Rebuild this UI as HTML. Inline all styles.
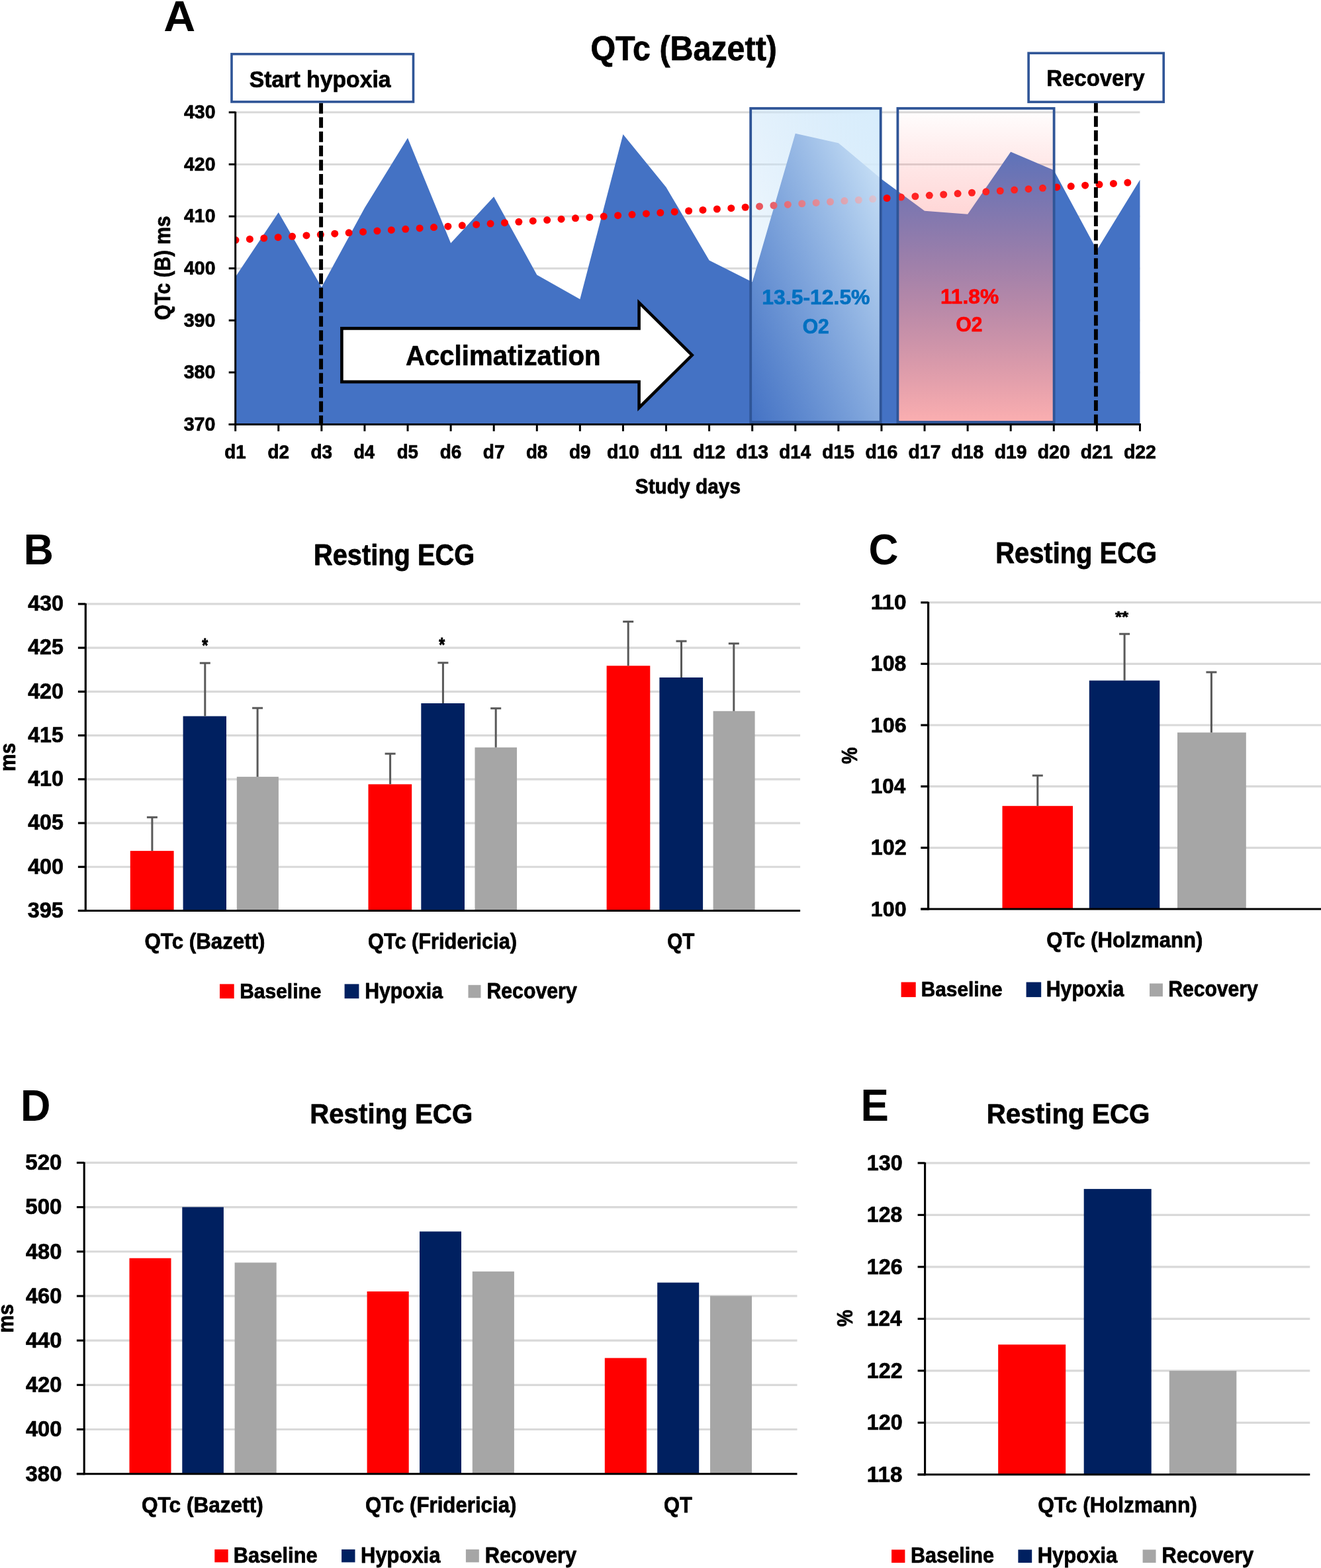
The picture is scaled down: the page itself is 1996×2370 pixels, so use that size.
<!DOCTYPE html>
<html lang="en"><head><meta charset="utf-8"><title>QTc figure</title>
<style>
html,body{margin:0;padding:0;background:#fff;}
body{width:1996px;height:2370px;overflow:hidden;}
svg{display:block;}
svg text{font-family:"Liberation Sans", sans-serif;font-weight:bold;}
</style></head><body>
<svg width="1996" height="2370" viewBox="0 0 1996 2370">
<defs>
<linearGradient id="gb" x1="0" y1="1" x2="1" y2="0">
<stop offset="0" stop-color="#BADBF6" stop-opacity="0"/><stop offset="1" stop-color="#D8EDFC" stop-opacity="1"/>
</linearGradient>
<linearGradient id="gr" x1="0" y1="0" x2="0" y2="1">
<stop offset="0" stop-color="#FF6E6E" stop-opacity="0"/><stop offset="1" stop-color="#FFB0B0" stop-opacity="0.98"/>
</linearGradient>
</defs>
<rect width="1996" height="2370" fill="#fff"/>
<line x1="355.70" y1="169.80" x2="1722.44" y2="169.80" stroke="#D9D9D9" stroke-width="3.0" />
<line x1="355.70" y1="248.42" x2="1722.44" y2="248.42" stroke="#D9D9D9" stroke-width="3.0" />
<line x1="355.70" y1="327.03" x2="1722.44" y2="327.03" stroke="#D9D9D9" stroke-width="3.0" />
<line x1="355.70" y1="405.65" x2="1722.44" y2="405.65" stroke="#D9D9D9" stroke-width="3.0" />
<line x1="355.70" y1="484.27" x2="1722.44" y2="484.27" stroke="#D9D9D9" stroke-width="3.0" />
<line x1="355.70" y1="562.88" x2="1722.44" y2="562.88" stroke="#D9D9D9" stroke-width="3.0" />
<polygon points="355.70,641.50 355.70,418.50 420.78,321.00 485.87,434.00 550.95,314.20 616.03,208.60 681.12,367.50 746.20,297.20 811.28,415.40 876.36,452.30 941.45,203.00 1006.53,282.90 1071.61,393.50 1136.70,426.20 1201.78,201.80 1266.86,216.20 1331.94,270.70 1397.03,318.80 1462.11,323.80 1527.19,229.50 1592.28,257.20 1657.36,378.00 1722.44,271.70 1722.44,641.50" fill="#4472C4"/>
<clipPath id="pa"><rect x="355.7" y="149.8" width="1376.743" height="491.7"/></clipPath><g clip-path="url(#pa)">
<circle cx="356.00" cy="362.80" r="5.5" fill="#FF0000"/>
<circle cx="377.39" cy="361.42" r="5.5" fill="#FF0000"/>
<circle cx="398.79" cy="360.05" r="5.5" fill="#FF0000"/>
<circle cx="420.18" cy="358.67" r="5.5" fill="#FF0000"/>
<circle cx="441.57" cy="357.30" r="5.5" fill="#FF0000"/>
<circle cx="462.97" cy="355.92" r="5.5" fill="#FF0000"/>
<circle cx="484.36" cy="354.54" r="5.5" fill="#FF0000"/>
<circle cx="505.76" cy="353.17" r="5.5" fill="#FF0000"/>
<circle cx="527.15" cy="351.79" r="5.5" fill="#FF0000"/>
<circle cx="548.54" cy="350.41" r="5.5" fill="#FF0000"/>
<circle cx="569.94" cy="349.04" r="5.5" fill="#FF0000"/>
<circle cx="591.33" cy="347.66" r="5.5" fill="#FF0000"/>
<circle cx="612.72" cy="346.29" r="5.5" fill="#FF0000"/>
<circle cx="634.12" cy="344.91" r="5.5" fill="#FF0000"/>
<circle cx="655.51" cy="343.53" r="5.5" fill="#FF0000"/>
<circle cx="676.90" cy="342.16" r="5.5" fill="#FF0000"/>
<circle cx="698.30" cy="340.78" r="5.5" fill="#FF0000"/>
<circle cx="719.69" cy="339.40" r="5.5" fill="#FF0000"/>
<circle cx="741.09" cy="338.03" r="5.5" fill="#FF0000"/>
<circle cx="762.48" cy="336.65" r="5.5" fill="#FF0000"/>
<circle cx="783.87" cy="335.28" r="5.5" fill="#FF0000"/>
<circle cx="805.27" cy="333.90" r="5.5" fill="#FF0000"/>
<circle cx="826.66" cy="332.52" r="5.5" fill="#FF0000"/>
<circle cx="848.05" cy="331.15" r="5.5" fill="#FF0000"/>
<circle cx="869.45" cy="329.77" r="5.5" fill="#FF0000"/>
<circle cx="890.84" cy="328.40" r="5.5" fill="#FF0000"/>
<circle cx="912.23" cy="327.02" r="5.5" fill="#FF0000"/>
<circle cx="933.63" cy="325.64" r="5.5" fill="#FF0000"/>
<circle cx="955.02" cy="324.27" r="5.5" fill="#FF0000"/>
<circle cx="976.42" cy="322.89" r="5.5" fill="#FF0000"/>
<circle cx="997.81" cy="321.51" r="5.5" fill="#FF0000"/>
<circle cx="1019.20" cy="320.14" r="5.5" fill="#FF0000"/>
<circle cx="1040.60" cy="318.76" r="5.5" fill="#FF0000"/>
<circle cx="1061.99" cy="317.39" r="5.5" fill="#FF0000"/>
<circle cx="1083.38" cy="316.01" r="5.5" fill="#FF0000"/>
<circle cx="1104.78" cy="314.63" r="5.5" fill="#FF0000"/>
<circle cx="1126.17" cy="313.26" r="5.5" fill="#FF0000"/>
<circle cx="1147.57" cy="311.88" r="5.5" fill="#FF0000"/>
<circle cx="1168.96" cy="310.50" r="5.5" fill="#FF0000"/>
<circle cx="1190.35" cy="309.13" r="5.5" fill="#FF0000"/>
<circle cx="1211.75" cy="307.75" r="5.5" fill="#FF0000"/>
<circle cx="1233.14" cy="306.38" r="5.5" fill="#FF0000"/>
<circle cx="1254.53" cy="305.00" r="5.5" fill="#FF0000"/>
<circle cx="1275.93" cy="303.62" r="5.5" fill="#FF0000"/>
<circle cx="1297.32" cy="302.25" r="5.5" fill="#FF0000"/>
<circle cx="1318.71" cy="300.87" r="5.5" fill="#FF0000"/>
<circle cx="1340.11" cy="299.50" r="5.5" fill="#FF0000"/>
<circle cx="1361.50" cy="298.12" r="5.5" fill="#FF0000"/>
<circle cx="1382.90" cy="296.74" r="5.5" fill="#FF0000"/>
<circle cx="1404.29" cy="295.37" r="5.5" fill="#FF0000"/>
<circle cx="1425.68" cy="293.99" r="5.5" fill="#FF0000"/>
<circle cx="1447.08" cy="292.61" r="5.5" fill="#FF0000"/>
<circle cx="1468.47" cy="291.24" r="5.5" fill="#FF0000"/>
<circle cx="1489.86" cy="289.86" r="5.5" fill="#FF0000"/>
<circle cx="1511.26" cy="288.49" r="5.5" fill="#FF0000"/>
<circle cx="1532.65" cy="287.11" r="5.5" fill="#FF0000"/>
<circle cx="1554.04" cy="285.73" r="5.5" fill="#FF0000"/>
<circle cx="1575.44" cy="284.36" r="5.5" fill="#FF0000"/>
<circle cx="1596.83" cy="282.98" r="5.5" fill="#FF0000"/>
<circle cx="1618.23" cy="281.60" r="5.5" fill="#FF0000"/>
<circle cx="1639.62" cy="280.23" r="5.5" fill="#FF0000"/>
<circle cx="1661.01" cy="278.85" r="5.5" fill="#FF0000"/>
<circle cx="1682.41" cy="277.48" r="5.5" fill="#FF0000"/>
<circle cx="1703.80" cy="276.10" r="5.5" fill="#FF0000"/>
</g>
<rect x="1134.2" y="163.8" width="196.5" height="474.2" fill="url(#gb)" stroke="#2F5597" stroke-width="3.8"/>
<rect x="1356.4" y="163.8" width="236.19999999999982" height="474.2" fill="url(#gr)" stroke="#2F5597" stroke-width="3.8"/>
<line x1="355.70" y1="168.80" x2="355.70" y2="643.00" stroke="#000" stroke-width="3.0" />
<line x1="345.70" y1="641.50" x2="1723.94" y2="641.50" stroke="#000" stroke-width="3.0" />
<line x1="345.70" y1="169.80" x2="355.70" y2="169.80" stroke="#000" stroke-width="3.0" />
<line x1="345.70" y1="248.42" x2="355.70" y2="248.42" stroke="#000" stroke-width="3.0" />
<line x1="345.70" y1="327.03" x2="355.70" y2="327.03" stroke="#000" stroke-width="3.0" />
<line x1="345.70" y1="405.65" x2="355.70" y2="405.65" stroke="#000" stroke-width="3.0" />
<line x1="345.70" y1="484.27" x2="355.70" y2="484.27" stroke="#000" stroke-width="3.0" />
<line x1="345.70" y1="562.88" x2="355.70" y2="562.88" stroke="#000" stroke-width="3.0" />
<line x1="345.70" y1="641.50" x2="355.70" y2="641.50" stroke="#000" stroke-width="3.0" />
<line x1="355.70" y1="641.50" x2="355.70" y2="651.80" stroke="#000" stroke-width="3.0" />
<line x1="420.78" y1="641.50" x2="420.78" y2="651.80" stroke="#000" stroke-width="3.0" />
<line x1="485.87" y1="641.50" x2="485.87" y2="651.80" stroke="#000" stroke-width="3.0" />
<line x1="550.95" y1="641.50" x2="550.95" y2="651.80" stroke="#000" stroke-width="3.0" />
<line x1="616.03" y1="641.50" x2="616.03" y2="651.80" stroke="#000" stroke-width="3.0" />
<line x1="681.12" y1="641.50" x2="681.12" y2="651.80" stroke="#000" stroke-width="3.0" />
<line x1="746.20" y1="641.50" x2="746.20" y2="651.80" stroke="#000" stroke-width="3.0" />
<line x1="811.28" y1="641.50" x2="811.28" y2="651.80" stroke="#000" stroke-width="3.0" />
<line x1="876.36" y1="641.50" x2="876.36" y2="651.80" stroke="#000" stroke-width="3.0" />
<line x1="941.45" y1="641.50" x2="941.45" y2="651.80" stroke="#000" stroke-width="3.0" />
<line x1="1006.53" y1="641.50" x2="1006.53" y2="651.80" stroke="#000" stroke-width="3.0" />
<line x1="1071.61" y1="641.50" x2="1071.61" y2="651.80" stroke="#000" stroke-width="3.0" />
<line x1="1136.70" y1="641.50" x2="1136.70" y2="651.80" stroke="#000" stroke-width="3.0" />
<line x1="1201.78" y1="641.50" x2="1201.78" y2="651.80" stroke="#000" stroke-width="3.0" />
<line x1="1266.86" y1="641.50" x2="1266.86" y2="651.80" stroke="#000" stroke-width="3.0" />
<line x1="1331.94" y1="641.50" x2="1331.94" y2="651.80" stroke="#000" stroke-width="3.0" />
<line x1="1397.03" y1="641.50" x2="1397.03" y2="651.80" stroke="#000" stroke-width="3.0" />
<line x1="1462.11" y1="641.50" x2="1462.11" y2="651.80" stroke="#000" stroke-width="3.0" />
<line x1="1527.19" y1="641.50" x2="1527.19" y2="651.80" stroke="#000" stroke-width="3.0" />
<line x1="1592.28" y1="641.50" x2="1592.28" y2="651.80" stroke="#000" stroke-width="3.0" />
<line x1="1657.36" y1="641.50" x2="1657.36" y2="651.80" stroke="#000" stroke-width="3.0" />
<line x1="1722.44" y1="641.50" x2="1722.44" y2="651.80" stroke="#000" stroke-width="3.0" />
<line x1="485.10" y1="155.70" x2="485.10" y2="641.50" stroke="#000" stroke-width="5.9" stroke-dasharray="16.1 5.37"/>
<line x1="1655.90" y1="154.10" x2="1655.90" y2="641.50" stroke="#000" stroke-width="5.9" stroke-dasharray="16.1 5.37"/>
<rect x="350.0" y="81.7" width="274.5" height="72.2" fill="#fff" stroke="#2F5597" stroke-width="3.6"/>
<rect x="1554.1" y="80.3" width="204.10000000000014" height="73.8" fill="#fff" stroke="#2F5597" stroke-width="3.6"/>
<text transform="translate(892.41 90.90) scale(0.9469 1)" font-size="51.13" fill="#000" stroke="#000" stroke-width="0.74" stroke-linejoin="round">QTc (Bazett)</text>
<text transform="translate(376.67 132.40) scale(0.9454 1)" font-size="35.75" fill="#000" stroke="#000" stroke-width="0.74" stroke-linejoin="round">Start hypoxia</text>
<text transform="translate(1581.27 130.20) scale(0.9479 1)" font-size="34.73" fill="#000" stroke="#000" stroke-width="0.74" stroke-linejoin="round">Recovery</text>
<text transform="translate(1151.34 460.10) scale(0.9906 1)" font-size="32.22" fill="#0070C0" stroke="#0070C0" stroke-width="0.71" stroke-linejoin="round">13.5-12.5%</text>
<text transform="translate(1212.65 504.30) scale(0.9654 1)" font-size="31.13" fill="#0070C0" stroke="#0070C0" stroke-width="0.73" stroke-linejoin="round">O2</text>
<text transform="translate(1420.95 458.50) scale(0.9855 1)" font-size="32.20" fill="#FF0000" stroke="#FF0000" stroke-width="0.71" stroke-linejoin="round">11.8%</text>
<text transform="translate(1444.55 501.00) scale(0.9652 1)" font-size="30.97" fill="#FF0000" stroke="#FF0000" stroke-width="0.73" stroke-linejoin="round">O2</text>
<text transform="translate(959.75 746.40) scale(0.9261 1)" font-size="32.26" fill="#000" stroke="#000" stroke-width="0.76" stroke-linejoin="round">Study days</text>
<polygon points="516.4,496.4 965.6,496.4 965.6,457.4 1045.7,536.8 965.6,616.2 965.6,577.1 516.4,577.1" fill="#fff" stroke="#000" stroke-width="4.6" stroke-linejoin="miter"/>
<text transform="translate(612.95 552.30) scale(0.9600 1)" font-size="41.83" fill="#000" stroke="#000" stroke-width="0.73" stroke-linejoin="round">Acclimatization</text>
<text transform="translate(277.97 179.10) scale(0.9653 1)" font-size="29.50" fill="#000" stroke="#000" stroke-width="0.73" stroke-linejoin="round">430</text>
<text transform="translate(277.97 257.72) scale(0.9653 1)" font-size="29.50" fill="#000" stroke="#000" stroke-width="0.73" stroke-linejoin="round">420</text>
<text transform="translate(277.97 336.33) scale(0.9653 1)" font-size="29.50" fill="#000" stroke="#000" stroke-width="0.73" stroke-linejoin="round">410</text>
<text transform="translate(277.97 414.95) scale(0.9653 1)" font-size="29.50" fill="#000" stroke="#000" stroke-width="0.73" stroke-linejoin="round">400</text>
<text transform="translate(277.68 493.57) scale(0.9519 1)" font-size="30.10" fill="#000" stroke="#000" stroke-width="0.74" stroke-linejoin="round">390</text>
<text transform="translate(277.68 572.18) scale(0.9519 1)" font-size="30.10" fill="#000" stroke="#000" stroke-width="0.74" stroke-linejoin="round">380</text>
<text transform="translate(277.68 650.80) scale(0.9519 1)" font-size="30.10" fill="#000" stroke="#000" stroke-width="0.74" stroke-linejoin="round">370</text>
<text transform="translate(339.34 692.60) scale(0.9395 1)" font-size="29.49" fill="#000" stroke="#000" stroke-width="0.75" stroke-linejoin="round">d1</text>
<text transform="translate(404.41 692.60) scale(0.9578 1)" font-size="29.19" fill="#000" stroke="#000" stroke-width="0.73" stroke-linejoin="round">d2</text>
<text transform="translate(469.50 692.60) scale(0.9578 1)" font-size="29.19" fill="#000" stroke="#000" stroke-width="0.73" stroke-linejoin="round">d3</text>
<text transform="translate(534.62 692.60) scale(0.9427 1)" font-size="28.61" fill="#000" stroke="#000" stroke-width="0.74" stroke-linejoin="round">d4</text>
<text transform="translate(599.67 692.60) scale(0.9299 1)" font-size="29.79" fill="#000" stroke="#000" stroke-width="0.75" stroke-linejoin="round">d5</text>
<text transform="translate(664.75 692.60) scale(0.9676 1)" font-size="28.90" fill="#000" stroke="#000" stroke-width="0.72" stroke-linejoin="round">d6</text>
<text transform="translate(729.83 692.60) scale(0.9676 1)" font-size="28.90" fill="#000" stroke="#000" stroke-width="0.72" stroke-linejoin="round">d7</text>
<text transform="translate(794.92 692.60) scale(0.9491 1)" font-size="29.19" fill="#000" stroke="#000" stroke-width="0.74" stroke-linejoin="round">d8</text>
<text transform="translate(860.00 692.60) scale(0.9676 1)" font-size="28.90" fill="#000" stroke="#000" stroke-width="0.72" stroke-linejoin="round">d9</text>
<text transform="translate(916.91 692.60) scale(0.9828 1)" font-size="28.91" fill="#000" stroke="#000" stroke-width="0.71" stroke-linejoin="round">d10</text>
<text transform="translate(981.96 692.60) scale(0.9971 1)" font-size="29.30" fill="#000" stroke="#000" stroke-width="0.70" stroke-linejoin="round">d11</text>
<text transform="translate(1047.08 692.60) scale(0.9762 1)" font-size="29.11" fill="#000" stroke="#000" stroke-width="0.72" stroke-linejoin="round">d12</text>
<text transform="translate(1112.16 692.60) scale(0.9762 1)" font-size="29.11" fill="#000" stroke="#000" stroke-width="0.72" stroke-linejoin="round">d13</text>
<text transform="translate(1177.27 692.60) scale(0.9659 1)" font-size="28.72" fill="#000" stroke="#000" stroke-width="0.72" stroke-linejoin="round">d14</text>
<text transform="translate(1242.33 692.60) scale(0.9574 1)" font-size="29.50" fill="#000" stroke="#000" stroke-width="0.73" stroke-linejoin="round">d15</text>
<text transform="translate(1307.41 692.60) scale(0.9828 1)" font-size="28.91" fill="#000" stroke="#000" stroke-width="0.71" stroke-linejoin="round">d16</text>
<text transform="translate(1372.49 692.60) scale(0.9828 1)" font-size="28.91" fill="#000" stroke="#000" stroke-width="0.71" stroke-linejoin="round">d17</text>
<text transform="translate(1437.58 692.60) scale(0.9704 1)" font-size="29.11" fill="#000" stroke="#000" stroke-width="0.72" stroke-linejoin="round">d18</text>
<text transform="translate(1502.66 692.60) scale(0.9828 1)" font-size="28.91" fill="#000" stroke="#000" stroke-width="0.71" stroke-linejoin="round">d19</text>
<text transform="translate(1567.74 692.60) scale(0.9828 1)" font-size="28.91" fill="#000" stroke="#000" stroke-width="0.71" stroke-linejoin="round">d20</text>
<text transform="translate(1632.83 692.60) scale(0.9639 1)" font-size="29.30" fill="#000" stroke="#000" stroke-width="0.73" stroke-linejoin="round">d21</text>
<text transform="translate(1697.91 692.60) scale(0.9762 1)" font-size="29.11" fill="#000" stroke="#000" stroke-width="0.72" stroke-linejoin="round">d22</text>
<text transform="translate(257.00 482.65) rotate(-90) translate(-1.20 0) scale(0.9181 1)" font-size="32.63" fill="#000" stroke="#000" stroke-width="0.76" stroke-linejoin="round">QTc (B) ms</text>
<line x1="129.30" y1="1310.27" x2="1209.10" y2="1310.27" stroke="#D9D9D9" stroke-width="3.2" />
<line x1="129.30" y1="1244.04" x2="1209.10" y2="1244.04" stroke="#D9D9D9" stroke-width="3.2" />
<line x1="129.30" y1="1177.81" x2="1209.10" y2="1177.81" stroke="#D9D9D9" stroke-width="3.2" />
<line x1="129.30" y1="1111.59" x2="1209.10" y2="1111.59" stroke="#D9D9D9" stroke-width="3.2" />
<line x1="129.30" y1="1045.36" x2="1209.10" y2="1045.36" stroke="#D9D9D9" stroke-width="3.2" />
<line x1="129.30" y1="979.13" x2="1209.10" y2="979.13" stroke="#D9D9D9" stroke-width="3.2" />
<line x1="129.30" y1="912.90" x2="1209.10" y2="912.90" stroke="#D9D9D9" stroke-width="3.2" />
<rect x="196.80" y="1286.10" width="65.80" height="90.40" fill="#FF0000" />
<rect x="276.60" y="1082.50" width="65.40" height="294.00" fill="#002060" />
<rect x="357.80" y="1174.10" width="63.10" height="202.40" fill="#A6A6A6" />
<rect x="556.50" y="1185.40" width="65.70" height="191.10" fill="#FF0000" />
<rect x="636.30" y="1063.00" width="65.70" height="313.50" fill="#002060" />
<rect x="717.50" y="1129.70" width="63.50" height="246.80" fill="#A6A6A6" />
<rect x="916.60" y="1006.30" width="65.70" height="370.20" fill="#FF0000" />
<rect x="996.40" y="1024.00" width="65.70" height="352.50" fill="#002060" />
<rect x="1077.60" y="1074.80" width="63.00" height="301.70" fill="#A6A6A6" />
<line x1="229.90" y1="1235.30" x2="229.90" y2="1286.10" stroke="#595959" stroke-width="3" />
<line x1="221.90" y1="1235.30" x2="237.90" y2="1235.30" stroke="#595959" stroke-width="3" />
<line x1="309.80" y1="1002.20" x2="309.80" y2="1082.50" stroke="#595959" stroke-width="3" />
<line x1="301.80" y1="1002.20" x2="317.80" y2="1002.20" stroke="#595959" stroke-width="3" />
<line x1="389.10" y1="1070.20" x2="389.10" y2="1174.10" stroke="#595959" stroke-width="3" />
<line x1="381.10" y1="1070.20" x2="397.10" y2="1070.20" stroke="#595959" stroke-width="3" />
<line x1="589.60" y1="1139.20" x2="589.60" y2="1185.40" stroke="#595959" stroke-width="3" />
<line x1="581.60" y1="1139.20" x2="597.60" y2="1139.20" stroke="#595959" stroke-width="3" />
<line x1="669.40" y1="1001.80" x2="669.40" y2="1063.00" stroke="#595959" stroke-width="3" />
<line x1="661.40" y1="1001.80" x2="677.40" y2="1001.80" stroke="#595959" stroke-width="3" />
<line x1="749.20" y1="1070.70" x2="749.20" y2="1129.70" stroke="#595959" stroke-width="3" />
<line x1="741.20" y1="1070.70" x2="757.20" y2="1070.70" stroke="#595959" stroke-width="3" />
<line x1="949.20" y1="939.60" x2="949.20" y2="1006.30" stroke="#595959" stroke-width="3" />
<line x1="941.20" y1="939.60" x2="957.20" y2="939.60" stroke="#595959" stroke-width="3" />
<line x1="1029.50" y1="969.10" x2="1029.50" y2="1024.00" stroke="#595959" stroke-width="3" />
<line x1="1021.50" y1="969.10" x2="1037.50" y2="969.10" stroke="#595959" stroke-width="3" />
<line x1="1108.80" y1="972.70" x2="1108.80" y2="1074.80" stroke="#595959" stroke-width="3" />
<line x1="1100.80" y1="972.70" x2="1116.80" y2="972.70" stroke="#595959" stroke-width="3" />
<line x1="129.30" y1="911.90" x2="129.30" y2="1378.00" stroke="#000" stroke-width="3.2" />
<line x1="117.90" y1="1376.50" x2="1209.10" y2="1376.50" stroke="#000" stroke-width="3.2" />
<line x1="117.90" y1="1376.50" x2="129.30" y2="1376.50" stroke="#000" stroke-width="3.2" />
<text transform="translate(41.80 1386.80) scale(0.9613 1)" font-size="33.66" fill="#000" stroke="#000" stroke-width="0.73" stroke-linejoin="round">395</text>
<line x1="117.90" y1="1310.27" x2="129.30" y2="1310.27" stroke="#000" stroke-width="3.2" />
<text transform="translate(42.13 1320.57) scale(1.0013 1)" font-size="32.32" fill="#000" stroke="#000" stroke-width="0.70" stroke-linejoin="round">400</text>
<line x1="117.90" y1="1244.04" x2="129.30" y2="1244.04" stroke="#000" stroke-width="3.2" />
<text transform="translate(42.13 1254.34) scale(0.9753 1)" font-size="32.98" fill="#000" stroke="#000" stroke-width="0.72" stroke-linejoin="round">405</text>
<line x1="117.90" y1="1177.81" x2="129.30" y2="1177.81" stroke="#000" stroke-width="3.2" />
<text transform="translate(42.13 1188.11) scale(1.0013 1)" font-size="32.32" fill="#000" stroke="#000" stroke-width="0.70" stroke-linejoin="round">410</text>
<line x1="117.90" y1="1111.59" x2="129.30" y2="1111.59" stroke="#000" stroke-width="3.2" />
<text transform="translate(42.13 1121.89) scale(0.9753 1)" font-size="32.98" fill="#000" stroke="#000" stroke-width="0.72" stroke-linejoin="round">415</text>
<line x1="117.90" y1="1045.36" x2="129.30" y2="1045.36" stroke="#000" stroke-width="3.2" />
<text transform="translate(42.13 1055.66) scale(1.0013 1)" font-size="32.32" fill="#000" stroke="#000" stroke-width="0.70" stroke-linejoin="round">420</text>
<line x1="117.90" y1="979.13" x2="129.30" y2="979.13" stroke="#000" stroke-width="3.2" />
<text transform="translate(42.13 989.43) scale(0.9753 1)" font-size="32.98" fill="#000" stroke="#000" stroke-width="0.72" stroke-linejoin="round">425</text>
<line x1="117.90" y1="912.90" x2="129.30" y2="912.90" stroke="#000" stroke-width="3.2" />
<text transform="translate(42.13 923.20) scale(1.0013 1)" font-size="32.32" fill="#000" stroke="#000" stroke-width="0.70" stroke-linejoin="round">430</text>
<text transform="translate(473.96 853.90) scale(0.9005 1)" font-size="44.22" fill="#000" stroke="#000" stroke-width="0.78" stroke-linejoin="round">Resting ECG</text>
<text transform="translate(218.50 1433.50) scale(0.9336 1)" font-size="33.54" fill="#000" stroke="#000" stroke-width="0.75" stroke-linejoin="round">QTc (Bazett)</text>
<text transform="translate(556.02 1433.50) scale(0.9353 1)" font-size="32.89" fill="#000" stroke="#000" stroke-width="0.75" stroke-linejoin="round">QTc (Fridericia)</text>
<text transform="translate(1008.17 1433.50) scale(0.9030 1)" font-size="32.78" fill="#000" stroke="#000" stroke-width="0.78" stroke-linejoin="round">QT</text>
<text transform="translate(362.15 1509.00) scale(0.9305 1)" font-size="32.26" fill="#000" stroke="#000" stroke-width="0.75" stroke-linejoin="round">Baseline</text>
<text transform="translate(551.13 1509.00) scale(0.9314 1)" font-size="32.54" fill="#000" stroke="#000" stroke-width="0.75" stroke-linejoin="round">Hypoxia</text>
<text transform="translate(735.43 1509.00) scale(0.9260 1)" font-size="32.69" fill="#000" stroke="#000" stroke-width="0.76" stroke-linejoin="round">Recovery</text>
<text transform="translate(305.25 984.60) scale(0.7814 1)" font-size="29.53" fill="#000" stroke="#000" stroke-width="0.90" stroke-linejoin="round">*</text>
<text transform="translate(663.25 983.60) scale(0.7814 1)" font-size="29.53" fill="#000" stroke="#000" stroke-width="0.90" stroke-linejoin="round">*</text>
<text transform="translate(23.00 1164.25) rotate(-90) translate(-1.78 0) scale(0.9175 1)" font-size="32.40" fill="#000" stroke="#000" stroke-width="0.76" stroke-linejoin="round">ms</text>
<rect x="332.00" y="1487.40" width="21.70" height="21.80" fill="#FF0000" />
<rect x="520.60" y="1487.40" width="21.80" height="21.80" fill="#002060" />
<rect x="707.50" y="1488.80" width="19.00" height="19.50" fill="#A6A6A6" />
<text transform="translate(35.65 852.60) scale(0.9628 1)" font-size="65.00" fill="#000">B</text>
<line x1="1402.60" y1="1281.34" x2="1996.00" y2="1281.34" stroke="#D9D9D9" stroke-width="3.2" />
<line x1="1402.60" y1="1188.68" x2="1996.00" y2="1188.68" stroke="#D9D9D9" stroke-width="3.2" />
<line x1="1402.60" y1="1096.02" x2="1996.00" y2="1096.02" stroke="#D9D9D9" stroke-width="3.2" />
<line x1="1402.60" y1="1003.36" x2="1996.00" y2="1003.36" stroke="#D9D9D9" stroke-width="3.2" />
<line x1="1402.60" y1="910.70" x2="1996.00" y2="910.70" stroke="#D9D9D9" stroke-width="3.2" />
<rect x="1514.50" y="1218.20" width="106.50" height="155.80" fill="#FF0000" />
<rect x="1645.80" y="1028.60" width="106.50" height="345.40" fill="#002060" />
<rect x="1779.00" y="1107.20" width="103.80" height="266.80" fill="#A6A6A6" />
<line x1="1567.80" y1="1172.20" x2="1567.80" y2="1218.20" stroke="#595959" stroke-width="3" />
<line x1="1559.80" y1="1172.20" x2="1575.80" y2="1172.20" stroke="#595959" stroke-width="3" />
<line x1="1699.10" y1="958.20" x2="1699.10" y2="1028.60" stroke="#595959" stroke-width="3" />
<line x1="1691.10" y1="958.20" x2="1707.10" y2="958.20" stroke="#595959" stroke-width="3" />
<line x1="1830.40" y1="1016.00" x2="1830.40" y2="1107.20" stroke="#595959" stroke-width="3" />
<line x1="1822.40" y1="1016.00" x2="1838.40" y2="1016.00" stroke="#595959" stroke-width="3" />
<line x1="1402.60" y1="909.70" x2="1402.60" y2="1375.50" stroke="#000" stroke-width="3.2" />
<line x1="1391.30" y1="1374.00" x2="1996.00" y2="1374.00" stroke="#000" stroke-width="3.2" />
<line x1="1391.30" y1="1374.00" x2="1402.60" y2="1374.00" stroke="#000" stroke-width="3.2" />
<text transform="translate(1315.82 1384.70) scale(1.0020 1)" font-size="32.18" fill="#000" stroke="#000" stroke-width="0.70" stroke-linejoin="round">100</text>
<line x1="1391.30" y1="1281.34" x2="1402.60" y2="1281.34" stroke="#000" stroke-width="3.2" />
<text transform="translate(1315.82 1292.04) scale(0.9951 1)" font-size="32.40" fill="#000" stroke="#000" stroke-width="0.70" stroke-linejoin="round">102</text>
<line x1="1391.30" y1="1188.68" x2="1402.60" y2="1188.68" stroke="#000" stroke-width="3.2" />
<text transform="translate(1315.86 1199.38) scale(0.9839 1)" font-size="31.96" fill="#000" stroke="#000" stroke-width="0.71" stroke-linejoin="round">104</text>
<line x1="1391.30" y1="1096.02" x2="1402.60" y2="1096.02" stroke="#000" stroke-width="3.2" />
<text transform="translate(1315.82 1106.72) scale(1.0020 1)" font-size="32.18" fill="#000" stroke="#000" stroke-width="0.70" stroke-linejoin="round">106</text>
<line x1="1391.30" y1="1003.36" x2="1402.60" y2="1003.36" stroke="#000" stroke-width="3.2" />
<text transform="translate(1315.83 1014.06) scale(0.9888 1)" font-size="32.40" fill="#000" stroke="#000" stroke-width="0.71" stroke-linejoin="round">108</text>
<line x1="1391.30" y1="910.70" x2="1402.60" y2="910.70" stroke="#000" stroke-width="3.2" />
<text transform="translate(1315.74 921.40) scale(1.0385 1)" font-size="32.18" fill="#000" stroke="#000" stroke-width="0.67" stroke-linejoin="round">110</text>
<text transform="translate(1504.15 851.30) scale(0.9005 1)" font-size="44.33" fill="#000" stroke="#000" stroke-width="0.78" stroke-linejoin="round">Resting ECG</text>
<text transform="translate(1581.31 1431.70) scale(0.9501 1)" font-size="32.74" fill="#000" stroke="#000" stroke-width="0.74" stroke-linejoin="round">QTc (Holzmann)</text>
<text transform="translate(1391.66 1506.10) scale(0.9304 1)" font-size="32.11" fill="#000" stroke="#000" stroke-width="0.75" stroke-linejoin="round">Baseline</text>
<text transform="translate(1580.74 1506.10) scale(0.9314 1)" font-size="32.46" fill="#000" stroke="#000" stroke-width="0.75" stroke-linejoin="round">Hypoxia</text>
<text transform="translate(1765.24 1506.10) scale(0.9259 1)" font-size="32.52" fill="#000" stroke="#000" stroke-width="0.76" stroke-linejoin="round">Recovery</text>
<text transform="translate(1685.05 941.20) scale(1.0856 1)" font-size="23.76" fill="#000" stroke="#000" stroke-width="0.64" stroke-linejoin="round">**</text>
<text transform="translate(1294.80 1154.25) rotate(-90) translate(-0.57 0) scale(0.8766 1)" font-size="32.48" fill="#000" stroke="#000" stroke-width="0.80" stroke-linejoin="round">%</text>
<rect x="1361.60" y="1484.50" width="22.10" height="22.60" fill="#FF0000" />
<rect x="1550.60" y="1484.50" width="22.60" height="22.60" fill="#002060" />
<rect x="1737.00" y="1486.50" width="19.90" height="19.70" fill="#A6A6A6" />
<text transform="translate(1312.61 852.50) scale(0.9580 1)" font-size="65.00" fill="#000">C</text>
<line x1="127.20" y1="2160.51" x2="1204.50" y2="2160.51" stroke="#D9D9D9" stroke-width="3.2" />
<line x1="127.20" y1="2093.33" x2="1204.50" y2="2093.33" stroke="#D9D9D9" stroke-width="3.2" />
<line x1="127.20" y1="2026.14" x2="1204.50" y2="2026.14" stroke="#D9D9D9" stroke-width="3.2" />
<line x1="127.20" y1="1958.96" x2="1204.50" y2="1958.96" stroke="#D9D9D9" stroke-width="3.2" />
<line x1="127.20" y1="1891.77" x2="1204.50" y2="1891.77" stroke="#D9D9D9" stroke-width="3.2" />
<line x1="127.20" y1="1824.59" x2="1204.50" y2="1824.59" stroke="#D9D9D9" stroke-width="3.2" />
<line x1="127.20" y1="1757.40" x2="1204.50" y2="1757.40" stroke="#D9D9D9" stroke-width="3.2" />
<rect x="195.50" y="1901.70" width="63.00" height="326.00" fill="#FF0000" />
<rect x="275.30" y="1824.50" width="62.60" height="403.20" fill="#002060" />
<rect x="354.60" y="1908.40" width="63.10" height="319.30" fill="#A6A6A6" />
<rect x="554.60" y="1952.00" width="63.10" height="275.70" fill="#FF0000" />
<rect x="634.00" y="1861.40" width="63.00" height="366.30" fill="#002060" />
<rect x="713.80" y="1921.80" width="63.10" height="305.90" fill="#A6A6A6" />
<rect x="913.80" y="2052.60" width="63.10" height="175.10" fill="#FF0000" />
<rect x="993.20" y="1938.60" width="63.00" height="289.10" fill="#002060" />
<rect x="1073.00" y="1958.70" width="63.00" height="269.00" fill="#A6A6A6" />
<line x1="127.20" y1="1756.40" x2="127.20" y2="2229.20" stroke="#000" stroke-width="3.1" />
<line x1="115.90" y1="2227.70" x2="1204.50" y2="2227.70" stroke="#000" stroke-width="3.1" />
<line x1="115.90" y1="2227.70" x2="127.20" y2="2227.70" stroke="#000" stroke-width="3.1" />
<text transform="translate(38.59 2238.50) scale(0.9876 1)" font-size="33.28" fill="#000" stroke="#000" stroke-width="0.71" stroke-linejoin="round">380</text>
<line x1="115.90" y1="2160.51" x2="127.20" y2="2160.51" stroke="#000" stroke-width="3.1" />
<text transform="translate(38.92 2171.31) scale(1.0015 1)" font-size="32.62" fill="#000" stroke="#000" stroke-width="0.70" stroke-linejoin="round">400</text>
<line x1="115.90" y1="2093.33" x2="127.20" y2="2093.33" stroke="#000" stroke-width="3.1" />
<text transform="translate(38.92 2104.13) scale(1.0015 1)" font-size="32.62" fill="#000" stroke="#000" stroke-width="0.70" stroke-linejoin="round">420</text>
<line x1="115.90" y1="2026.14" x2="127.20" y2="2026.14" stroke="#000" stroke-width="3.1" />
<text transform="translate(38.92 2036.94) scale(1.0015 1)" font-size="32.62" fill="#000" stroke="#000" stroke-width="0.70" stroke-linejoin="round">440</text>
<line x1="115.90" y1="1958.96" x2="127.20" y2="1958.96" stroke="#000" stroke-width="3.1" />
<text transform="translate(38.92 1969.76) scale(1.0015 1)" font-size="32.62" fill="#000" stroke="#000" stroke-width="0.70" stroke-linejoin="round">460</text>
<line x1="115.90" y1="1891.77" x2="127.20" y2="1891.77" stroke="#000" stroke-width="3.1" />
<text transform="translate(38.92 1902.57) scale(1.0015 1)" font-size="32.62" fill="#000" stroke="#000" stroke-width="0.70" stroke-linejoin="round">480</text>
<line x1="115.90" y1="1824.59" x2="127.20" y2="1824.59" stroke="#000" stroke-width="3.1" />
<text transform="translate(38.26 1835.39) scale(1.0005 1)" font-size="33.06" fill="#000" stroke="#000" stroke-width="0.70" stroke-linejoin="round">500</text>
<line x1="115.90" y1="1757.40" x2="127.20" y2="1757.40" stroke="#000" stroke-width="3.1" />
<text transform="translate(38.26 1768.20) scale(1.0005 1)" font-size="33.06" fill="#000" stroke="#000" stroke-width="0.70" stroke-linejoin="round">520</text>
<text transform="translate(468.13 1697.50) scale(0.9322 1)" font-size="43.21" fill="#000" stroke="#000" stroke-width="0.75" stroke-linejoin="round">Resting ECG</text>
<text transform="translate(213.98 2286.10) scale(0.9337 1)" font-size="33.87" fill="#000" stroke="#000" stroke-width="0.75" stroke-linejoin="round">QTc (Bazett)</text>
<text transform="translate(551.90 2286.10) scale(0.9354 1)" font-size="33.42" fill="#000" stroke="#000" stroke-width="0.75" stroke-linejoin="round">QTc (Fridericia)</text>
<text transform="translate(1003.12 2286.10) scale(0.9043 1)" font-size="34.13" fill="#000" stroke="#000" stroke-width="0.77" stroke-linejoin="round">QT</text>
<text transform="translate(352.80 2361.60) scale(0.9308 1)" font-size="33.13" fill="#000" stroke="#000" stroke-width="0.75" stroke-linejoin="round">Baseline</text>
<text transform="translate(545.09 2361.60) scale(0.9316 1)" font-size="33.20" fill="#000" stroke="#000" stroke-width="0.75" stroke-linejoin="round">Hypoxia</text>
<text transform="translate(732.71 2361.60) scale(0.9261 1)" font-size="33.19" fill="#000" stroke="#000" stroke-width="0.76" stroke-linejoin="round">Recovery</text>
<text transform="translate(20.00 2012.65) rotate(-90) translate(-1.80 0) scale(0.9176 1)" font-size="32.63" fill="#000" stroke="#000" stroke-width="0.76" stroke-linejoin="round">ms</text>
<rect x="324.30" y="2341.90" width="20.40" height="19.50" fill="#FF0000" />
<rect x="516.10" y="2341.90" width="20.40" height="19.50" fill="#002060" />
<rect x="703.90" y="2341.90" width="19.90" height="19.50" fill="#A6A6A6" />
<text transform="translate(30.92 1693.90) scale(0.9336 1)" font-size="67.50" fill="#000">D</text>
<line x1="1397.60" y1="2150.32" x2="1979.30" y2="2150.32" stroke="#D9D9D9" stroke-width="3.2" />
<line x1="1397.60" y1="2071.83" x2="1979.30" y2="2071.83" stroke="#D9D9D9" stroke-width="3.2" />
<line x1="1397.60" y1="1993.35" x2="1979.30" y2="1993.35" stroke="#D9D9D9" stroke-width="3.2" />
<line x1="1397.60" y1="1914.87" x2="1979.30" y2="1914.87" stroke="#D9D9D9" stroke-width="3.2" />
<line x1="1397.60" y1="1836.38" x2="1979.30" y2="1836.38" stroke="#D9D9D9" stroke-width="3.2" />
<line x1="1397.60" y1="1757.90" x2="1979.30" y2="1757.90" stroke="#D9D9D9" stroke-width="3.2" />
<rect x="1508.20" y="2032.30" width="102.00" height="196.50" fill="#FF0000" />
<rect x="1637.70" y="1797.10" width="102.00" height="431.70" fill="#002060" />
<rect x="1766.80" y="2072.00" width="101.50" height="156.80" fill="#A6A6A6" />
<line x1="1397.60" y1="1756.90" x2="1397.60" y2="2230.30" stroke="#000" stroke-width="3.1" />
<line x1="1386.60" y1="2228.80" x2="1979.30" y2="2228.80" stroke="#000" stroke-width="3.1" />
<line x1="1386.60" y1="2228.80" x2="1397.60" y2="2228.80" stroke="#000" stroke-width="3.1" />
<text transform="translate(1309.75 2239.80) scale(1.0132 1)" font-size="32.83" fill="#000" stroke="#000" stroke-width="0.69" stroke-linejoin="round">118</text>
<line x1="1386.60" y1="2150.32" x2="1397.60" y2="2150.32" stroke="#000" stroke-width="3.1" />
<text transform="translate(1309.81 2161.32) scale(0.9909 1)" font-size="32.60" fill="#000" stroke="#000" stroke-width="0.71" stroke-linejoin="round">120</text>
<line x1="1386.60" y1="2071.83" x2="1397.60" y2="2071.83" stroke="#000" stroke-width="3.1" />
<text transform="translate(1309.81 2082.83) scale(0.9841 1)" font-size="32.83" fill="#000" stroke="#000" stroke-width="0.71" stroke-linejoin="round">122</text>
<line x1="1386.60" y1="1993.35" x2="1397.60" y2="1993.35" stroke="#000" stroke-width="3.1" />
<text transform="translate(1309.86 2004.35) scale(0.9731 1)" font-size="32.38" fill="#000" stroke="#000" stroke-width="0.72" stroke-linejoin="round">124</text>
<line x1="1386.60" y1="1914.87" x2="1397.60" y2="1914.87" stroke="#000" stroke-width="3.1" />
<text transform="translate(1309.81 1925.87) scale(0.9909 1)" font-size="32.60" fill="#000" stroke="#000" stroke-width="0.71" stroke-linejoin="round">126</text>
<line x1="1386.60" y1="1836.38" x2="1397.60" y2="1836.38" stroke="#000" stroke-width="3.1" />
<text transform="translate(1309.82 1847.38) scale(0.9779 1)" font-size="32.83" fill="#000" stroke="#000" stroke-width="0.72" stroke-linejoin="round">128</text>
<line x1="1386.60" y1="1757.90" x2="1397.60" y2="1757.90" stroke="#000" stroke-width="3.1" />
<text transform="translate(1309.81 1768.90) scale(0.9909 1)" font-size="32.60" fill="#000" stroke="#000" stroke-width="0.71" stroke-linejoin="round">130</text>
<text transform="translate(1490.63 1698.40) scale(0.9322 1)" font-size="43.35" fill="#000" stroke="#000" stroke-width="0.75" stroke-linejoin="round">Resting ECG</text>
<text transform="translate(1568.18 2285.90) scale(0.9503 1)" font-size="33.37" fill="#000" stroke="#000" stroke-width="0.74" stroke-linejoin="round">QTc (Holzmann)</text>
<text transform="translate(1375.91 2362.20) scale(0.9307 1)" font-size="32.95" fill="#000" stroke="#000" stroke-width="0.75" stroke-linejoin="round">Baseline</text>
<text transform="translate(1567.69 2362.20) scale(0.9317 1)" font-size="33.28" fill="#000" stroke="#000" stroke-width="0.75" stroke-linejoin="round">Hypoxia</text>
<text transform="translate(1755.50 2362.20) scale(0.9261 1)" font-size="33.24" fill="#000" stroke="#000" stroke-width="0.76" stroke-linejoin="round">Recovery</text>
<text transform="translate(1288.00 2004.65) rotate(-90) translate(-0.57 0) scale(0.8767 1)" font-size="32.61" fill="#000" stroke="#000" stroke-width="0.80" stroke-linejoin="round">%</text>
<rect x="1347.10" y="2342.30" width="20.30" height="19.80" fill="#FF0000" />
<rect x="1538.40" y="2342.30" width="20.80" height="19.80" fill="#002060" />
<rect x="1726.60" y="2342.30" width="19.90" height="19.80" fill="#A6A6A6" />
<text transform="translate(1300.39 1694.30) scale(0.9271 1)" font-size="68.50" fill="#000">E</text>
<text transform="translate(247.17 46.90) scale(1.0226 1)" font-size="65.00" fill="#000">A</text>
</svg>
</body></html>
